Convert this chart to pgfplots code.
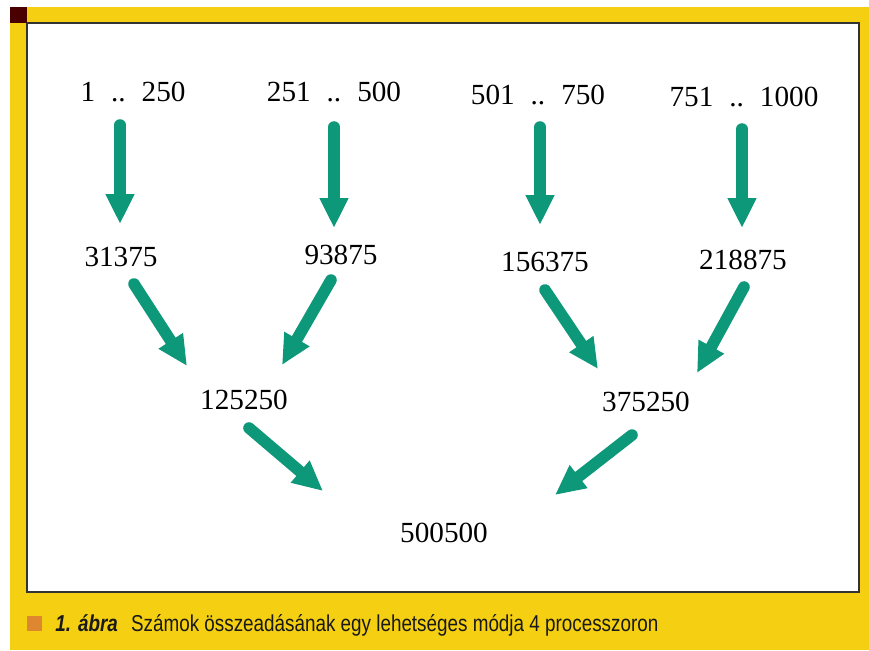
\documentclass[border=0pt]{standalone}
\usepackage{fontspec}
\setmainfont{Liberation Serif}
\newfontfamily\capfont{Liberation Sans}
\usepackage{pgfplots}
\pgfplotsset{compat=1.18}
\usetikzlibrary{arrows.meta}
\definecolor{frameyellow}{RGB}{245,208,18}
\definecolor{darkred}{RGB}{75,0,0}
\definecolor{capor}{RGB}{222,134,48}
\definecolor{arrgreen}{RGB}{14,152,122}
\definecolor{captext}{RGB}{25,25,25}
\begin{document}
\begin{tikzpicture}
\begin{axis}[
  hide axis, scale only axis,
  width=434.5pt, height=325pt,
  xmin=0, xmax=869, ymin=0, ymax=650,
  y dir=reverse, clip=false,
  arr/.style={arrgreen, line width=5.8pt, line cap=round,
     -{Triangle[width=13.5pt,length=15pt]}},
]
% background and frame
\fill[white] (axis cs:0,0) rectangle (axis cs:869,650);
\fill[frameyellow] (axis cs:10,7) rectangle (axis cs:869,650);
\fill[white] (axis cs:27,23) rectangle (axis cs:859,592);
\draw[black!80, line width=1pt] (axis cs:27,23) rectangle (axis cs:859,592);
\fill[darkred] (axis cs:10,7) rectangle (axis cs:27,23);
\fill[capor] (axis cs:27,616) rectangle (axis cs:42,631);

% arrows level 1
\addplot[arr] coordinates {(120,125) (120,224)};
\addplot[arr] coordinates {(334,127) (334,228)};
\addplot[arr] coordinates {(540,127) (540,225)};
\addplot[arr] coordinates {(742,129) (742,228)};
% arrows level 2
\addplot[arr] coordinates {(134,284) (187,366)};
\addplot[arr] coordinates {(331,280) (282,365)};
\addplot[arr] coordinates {(545,290) (598,369)};
\addplot[arr] coordinates {(744,287) (697,373)};
% arrows level 3
\addplot[arr] coordinates {(249,428) (323,491)};
\addplot[arr] coordinates {(632,435) (555,495)};

% number labels
\addplot[only marks, mark=none, point meta=explicit symbolic,
  nodes near coords,
  every node near coord/.append style={anchor=center, font=\fontsize{14.6}{17}\selectfont, text=black, inner sep=0pt}]
coordinates {
 (133,92) [{1\hspace{8pt}..\hspace{8pt}250}]
 (334,92) [{251\hspace{8pt}..\hspace{8pt}500}]
 (538,95) [{501\hspace{8pt}..\hspace{8pt}750}]
 (744,97) [{751\hspace{8pt}..\hspace{8pt}1000}]
 (121,257) [31375]
 (341,255) [93875]
 (545,262) [156375]
 (743,260) [218875]
 (244,400) [125250]
 (646,402) [375250]
 (444,533) [500500]
};

% caption
\node[anchor=base west, inner sep=0pt, text=captext] at (axis cs:55,631)
  {\capfont\fontsize{11.5}{13}\selectfont\scalebox{0.82}[1]{\textbf{\textit{1. ábra}}\hspace{8pt}Számok összeadásának egy lehetséges módja 4 processzoron}};
\end{axis}
\end{tikzpicture}
\end{document}
